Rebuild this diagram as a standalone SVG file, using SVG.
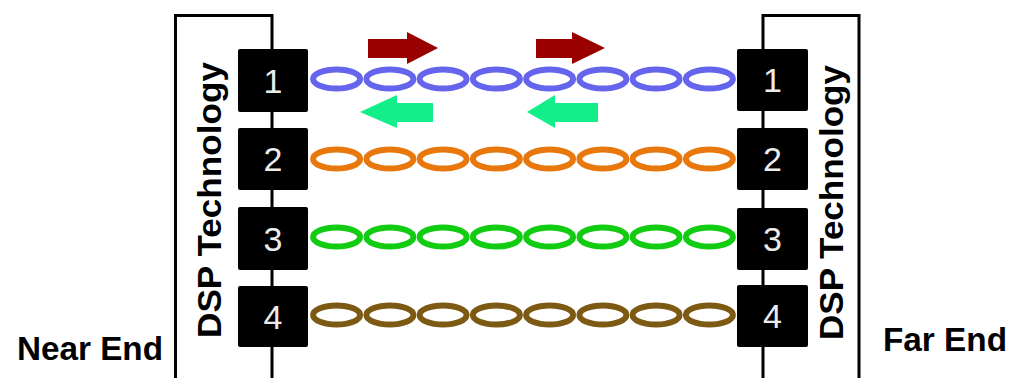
<svg xmlns="http://www.w3.org/2000/svg" width="1013" height="378" viewBox="0 0 1013 378">
<style>
.frame{fill:none;stroke:#000;stroke-width:3}
.box{fill:#000}
.num{font-family:"Liberation Sans",Arial,sans-serif;font-size:34px;fill:#ececec;text-anchor:middle}
.lbl{font-family:"Liberation Sans",Arial,sans-serif;font-weight:bold;font-size:34px;fill:#000}
.link{fill:none;stroke-width:6}
.p1{stroke:#6464EC}
.p2{stroke:#E8780C}
.p3{stroke:#12CC12}
.p4{stroke:#7D5A14}
.fwd{fill:#9B0000}
.back{fill:#12EE88}
</style>
<defs>
<g id="chain">
<ellipse cx="336.6" cy="0" rx="23.5" ry="9.5"/>
<ellipse cx="389.9" cy="0" rx="23.5" ry="9.5"/>
<ellipse cx="443.1" cy="0" rx="23.5" ry="9.5"/>
<ellipse cx="496.4" cy="0" rx="23.5" ry="9.5"/>
<ellipse cx="549.6" cy="0" rx="23.5" ry="9.5"/>
<ellipse cx="602.9" cy="0" rx="23.5" ry="9.5"/>
<ellipse cx="656.1" cy="0" rx="23.5" ry="9.5"/>
<ellipse cx="709.4" cy="0" rx="23.5" ry="9.5"/>
</g>
</defs>
<rect width="1013" height="378" fill="#fff"/>
<g id="near-end">
<path class="frame" d="M175.5 378 V15.5 H272 V378"/>
<text class="lbl" x="17" y="360" textLength="146" lengthAdjust="spacingAndGlyphs">Near End</text>
<text class="lbl" transform="translate(221,338) rotate(-90)" x="0" y="0" textLength="276" lengthAdjust="spacingAndGlyphs">DSP Technology</text>
</g>
<g id="far-end">
<path class="frame" d="M763 378 V15.5 H859 V378"/>
<text class="lbl" x="883" y="351" textLength="124" lengthAdjust="spacingAndGlyphs">Far End</text>
<text class="lbl" transform="translate(843,340) rotate(-90)" x="0" y="0" textLength="275" lengthAdjust="spacingAndGlyphs">DSP Technology</text>
</g>
<g id="near-port-1"><rect class="box" x="238" y="49" width="70" height="63" rx="2"/><text class="num" x="273" y="93">1</text></g>
<g id="near-port-2"><rect class="box" x="238" y="128" width="70" height="62" rx="2"/><text class="num" x="273" y="171">2</text></g>
<g id="near-port-3"><rect class="box" x="238" y="207" width="70" height="63" rx="2"/><text class="num" x="273" y="251">3</text></g>
<g id="near-port-4"><rect class="box" x="238" y="286" width="70" height="61" rx="2"/><text class="num" x="273" y="329">4</text></g>
<g id="far-port-1"><rect class="box" x="737" y="49" width="71" height="62" rx="2"/><text class="num" x="772.5" y="92">1</text></g>
<g id="far-port-2"><rect class="box" x="737" y="128" width="71" height="62" rx="2"/><text class="num" x="772.5" y="171">2</text></g>
<g id="far-port-3"><rect class="box" x="737" y="208" width="71" height="62" rx="2"/><text class="num" x="772.5" y="251">3</text></g>
<g id="far-port-4"><rect class="box" x="737" y="285" width="71" height="62" rx="2"/><text class="num" x="772.5" y="328">4</text></g>
<g id="connectors">
<use href="#chain" class="link p1" transform="translate(0,79)"/>
<use href="#chain" class="link p2" transform="translate(0,159)"/>
<use href="#chain" class="link p3" transform="translate(0,237)"/>
<use href="#chain" class="link p4" transform="translate(0,315)"/>
<polygon class="fwd" points="368,39 407,39 407,32 438,48 407,64 407,58 368,58"/>
<polygon class="fwd" points="536,39 572,39 572,32 605,48 572,64 572,58 536,58"/>
<polygon class="back" points="433,103 397,103 397,95 360,112 397,128 397,122 433,122"/>
<polygon class="back" points="598,103 555,103 555,95 527,112 555,128 555,122 598,122"/>
</g>
</svg>
